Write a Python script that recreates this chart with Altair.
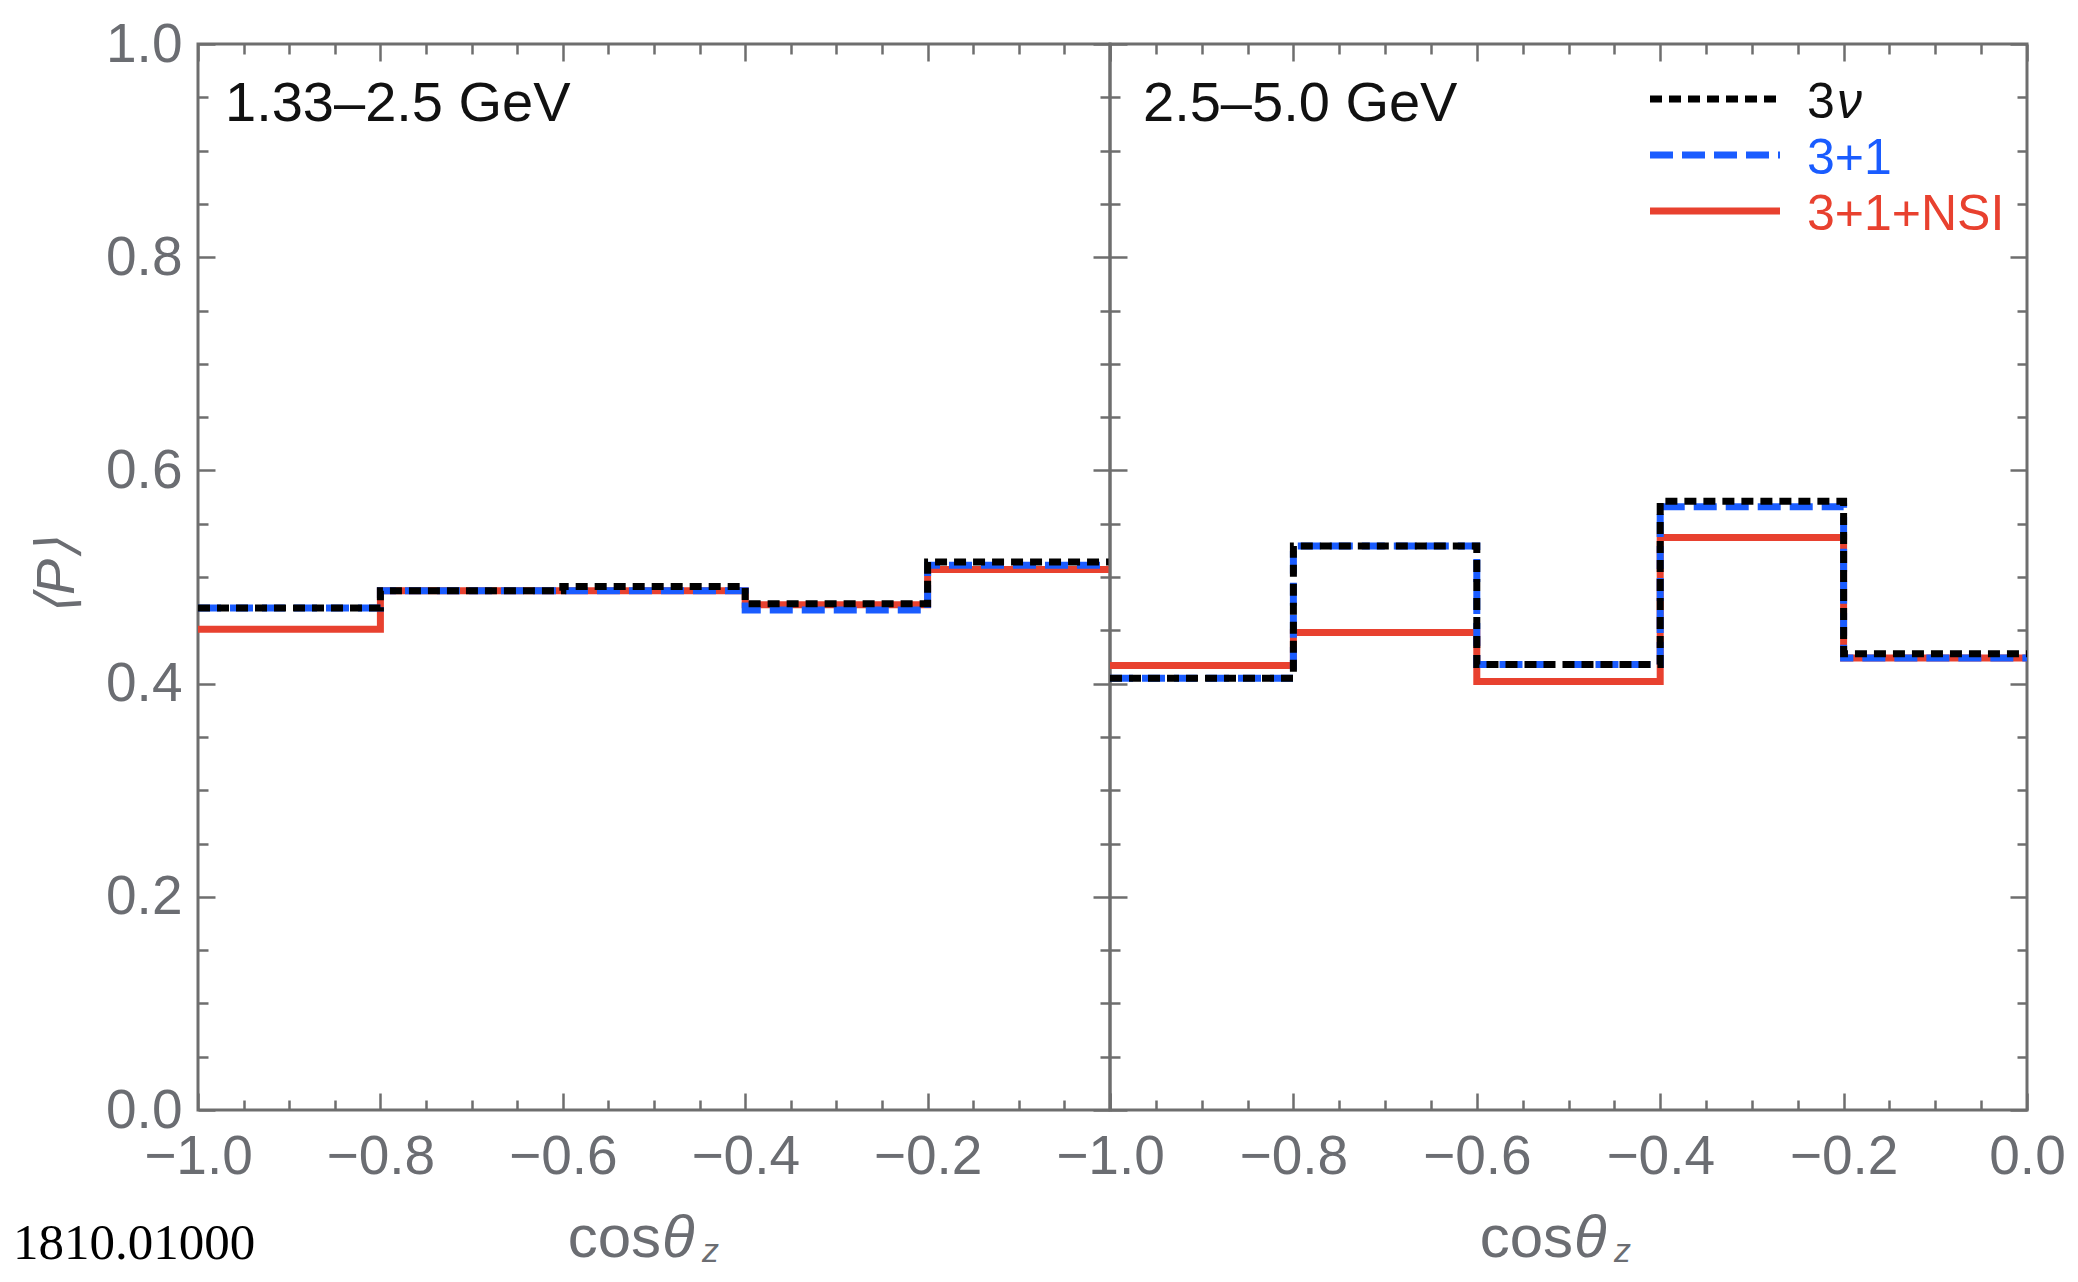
import altair as alt
import pandas as pd

# ---------------- data ----------------
EDGES = [-1.0, -0.8, -0.6, -0.4, -0.2, 0.0]          # bin edges in cos(theta_z)
SERIES = ["3ν", "3+1", "3+1+NSI"]
PANELS = ["1.33–2.5 GeV", "2.5–5.0 GeV"]

LOW_3NU = [0.471, 0.487, 0.491, 0.475, 0.514]
LOW_31 = [0.471, 0.487, 0.487, 0.469, 0.511]
LOW_NSI = [0.451, 0.487, 0.487, 0.474, 0.507]

HIGH_3NU = [0.405, 0.529, 0.418, 0.571, 0.428]
HIGH_31 = [0.405, 0.529, 0.418, 0.566, 0.424]
HIGH_NSI = [0.417, 0.448, 0.402, 0.537, 0.424]

X_MAJOR = [-1.0, -0.8, -0.6, -0.4, -0.2, 0.0]
X_TICKS = [-1.0, -0.95, -0.9, -0.85, -0.8, -0.75, -0.7, -0.65, -0.6, -0.55, -0.5,
           -0.45, -0.4, -0.35, -0.3, -0.25, -0.2, -0.15, -0.1, -0.05, 0.0]
Y_MAJOR = [0.0, 0.2, 0.4, 0.6, 0.8, 1.0]
Y_TICKS = [0.0, 0.05, 0.1, 0.15, 0.2, 0.25, 0.3, 0.35, 0.4, 0.45, 0.5,
           0.55, 0.6, 0.65, 0.7, 0.75, 0.8, 0.85, 0.9, 0.95, 1.0]

X_TITLE = ["cos", "θ", "z"]
Y_TITLE = ["⟨P⟩"]
SOURCE = ["1810.01000"]

# ---------------- styling ----------------
FONT = "Liberation Sans, Arial, Helvetica, sans-serif"
GRAY = "#6e6e6e"
LABEL_GRAY = "#6b6d72"
COLORS = {"3ν": "#000000", "3+1": "#1a5cff", "3+1+NSI": "#e8412f"}
DASH = {"3ν": [12, 7], "3+1": [23, 9], "3+1+NSI": None}
LW = 7
H = 1066
WIDTHS = [912, 917]
MAJOR_TEST = "abs(datum.value*5 - round(datum.value*5)) < 0.001"
LEG_FS = 50

rows = []
for panel, series_vals in zip(PANELS, [[LOW_3NU, LOW_31, LOW_NSI], [HIGH_3NU, HIGH_31, HIGH_NSI]]):
    for s, vals in zip(SERIES, series_vals):
        for i, e in enumerate(EDGES):
            rows.append({"panel": panel, "series": s, "cos": e, "P": vals[min(i, len(vals) - 1)]})
df = pd.DataFrame(rows)


def inward_axis(orient, offset, values):
    return alt.Axis(orient=orient, offset=offset, values=values, labels=False, domain=False,
                    grid=False, title=None, ticks=True, tickColor=GRAY, tickWidth=2.5,
                    tickSize={"condition": {"test": MAJOR_TEST, "value": 17}, "value": 10})


def x_label_axis(values):
    return alt.Axis(orient="bottom", values=values, format=".1f", labelFont=FONT,
                    labelFontSize=55, labelColor=LABEL_GRAY, labelPadding=20, ticks=False,
                    tickSize=0, domain=False, grid=False, title=None, labelFlush=False,
                    labelOverlap=False, labelBound=False)


def y_label_axis():
    return alt.Axis(orient="left", values=Y_MAJOR, format=".1f", labelFont=FONT,
                    labelFontSize=55, labelColor=LABEL_GRAY, labelPadding=16, ticks=False,
                    tickSize=0, domain=False, grid=False, title=None, labelFlush=False,
                    labelOverlap=False, labelBound=False)


def one(text):
    return alt.Chart(pd.DataFrame({"t": [text]}))


def panel(idx):
    width = WIDTHS[idx]
    data = df[df["panel"] == PANELS[idx]]
    base = alt.Chart(data)
    xs = alt.Scale(domain=[-1, 0], nice=False, zero=False)
    ys = alt.Scale(domain=[0, 1], nice=False, zero=False)
    x_lab_vals = X_MAJOR[:-1] if idx == 0 else X_MAJOR
    x_axes = [x_label_axis(x_lab_vals), inward_axis("top", -H, X_TICKS),
              inward_axis("bottom", -H, X_TICKS)]
    y_axes = [y_label_axis() if idx == 0 else None, inward_axis("right", -width, Y_TICKS),
              inward_axis("left", -width, Y_TICKS)]
    layers = []
    for k, s in enumerate(["3+1+NSI", "3+1", "3ν"]):
        kw = dict(interpolate="step-after", strokeWidth=LW, color=COLORS[s],
                  strokeCap="butt", strokeJoin="miter")
        if DASH[s]:
            kw["strokeDash"] = DASH[s]
        layers.append(
            base.transform_filter(alt.datum.series == s).mark_line(**kw).encode(
                x=alt.X("cos:Q", scale=xs, axis=x_axes[k]),
                y=alt.Y("P:Q", scale=ys, axis=y_axes[k]),
            )
        )
    # panel energy label
    layers.append(one(PANELS[idx]).mark_text(align="left", baseline="alphabetic", font=FONT,
                                             fontSize=56, color="#111111").encode(
        text="t:N", x=alt.value(27 if idx == 0 else 33), y=alt.value(77)))
    # x-axis title: cos θ_z
    layers.append(one(X_TITLE[0]).mark_text(align="right", baseline="alphabetic", font=FONT,
                                            fontSize=60, color=LABEL_GRAY).encode(
        text="t:N", x=alt.value(463), y=alt.value(1213)))
    layers.append(one(X_TITLE[1]).mark_text(align="left", baseline="alphabetic", font=FONT,
                                            fontSize=60, fontStyle="italic", color=LABEL_GRAY).encode(
        text="t:N", x=alt.value(464), y=alt.value(1213)))
    layers.append(one(X_TITLE[2]).mark_text(align="left", baseline="alphabetic", font=FONT,
                                            fontSize=34, fontStyle="italic", color=LABEL_GRAY).encode(
        text="t:N", x=alt.value(504), y=alt.value(1218)))
    if idx == 0:
        layers.append(one(Y_TITLE[0]).mark_text(angle=270, align="center", baseline="middle",
                                                font=FONT, fontSize=54, fontStyle="italic",
                                                color=LABEL_GRAY).encode(
            text="t:N", x=alt.value(-140), y=alt.value(533)))
        layers.append(one(SOURCE[0]).mark_text(align="left", baseline="alphabetic",
                                                font="Liberation Serif, DejaVu Serif, serif",
                                                fontSize=51, color="#000000").encode(
            text="t:N", x=alt.value(-185), y=alt.value(1215)))
    else:
        leg_line_y = {"3ν": 55, "3+1": 111, "3+1+NSI": 167}
        leg_text_y = {"3ν": 74, "3+1": 130, "3+1+NSI": 186}
        for s in SERIES:
            kw = dict(strokeWidth=LW, color=COLORS[s], strokeCap="butt")
            if DASH[s]:
                kw["strokeDash"] = DASH[s]
            layers.append(one(s).mark_rule(**kw).encode(
                x=alt.value(540), x2=alt.value(670), y=alt.value(leg_line_y[s])))
        layers.append(one(SERIES[0][0]).mark_text(align="left", baseline="alphabetic", font=FONT,
                                                  fontSize=LEG_FS, color="#111111").encode(
            text="t:N", x=alt.value(697), y=alt.value(leg_text_y["3ν"])))
        layers.append(one(SERIES[0][1]).mark_text(align="left", baseline="alphabetic", font=FONT,
                                                  fontSize=LEG_FS, fontStyle="italic",
                                                  color="#111111").encode(
            text="t:N", x=alt.value(727), y=alt.value(leg_text_y["3ν"])))
        layers.append(one(SERIES[1]).mark_text(align="left", baseline="alphabetic", font=FONT,
                                               fontSize=LEG_FS, color=COLORS["3+1"]).encode(
            text="t:N", x=alt.value(697), y=alt.value(leg_text_y["3+1"])))
        layers.append(one(SERIES[2]).mark_text(align="left", baseline="alphabetic", font=FONT,
                                               fontSize=LEG_FS, color=COLORS["3+1+NSI"],
                                               clip=True).encode(
            text="t:N", x=alt.value(697), y=alt.value(leg_text_y["3+1+NSI"])))
    return alt.layer(*layers).resolve_axis(x="independent", y="independent").properties(
        width=width, height=H)


chart = alt.hconcat(
    panel(0), panel(1), spacing=0, bounds="flush", background="white",
    padding={"left": 3, "top": 7, "right": 0, "bottom": 0},
).configure_view(stroke=GRAY, strokeWidth=3)

chart.save("out.html", embed_options={"renderer": "svg", "actions": False})
